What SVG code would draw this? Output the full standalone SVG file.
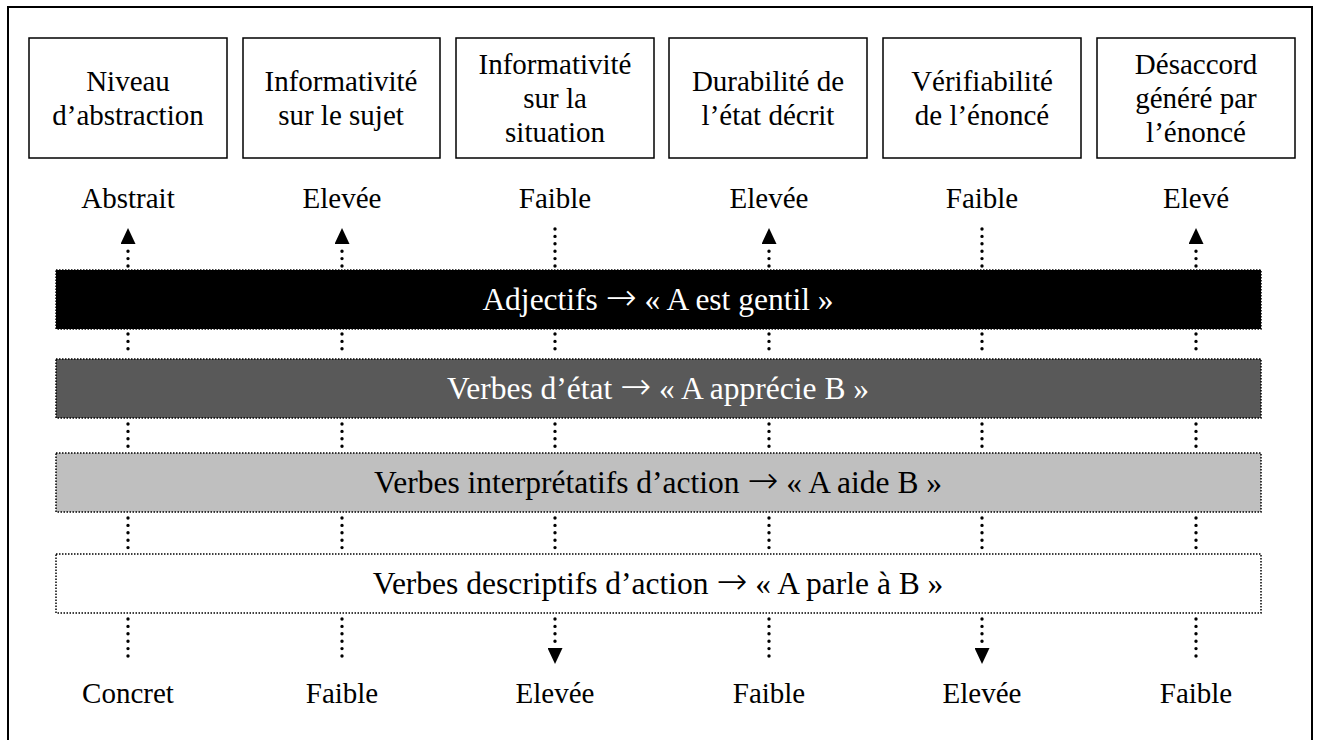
<svg xmlns="http://www.w3.org/2000/svg" width="1319" height="740" viewBox="0 0 1319 740">
<style>
text{font-family:"Liberation Serif","Times New Roman",serif;font-size:29px;fill:#000;text-anchor:middle}
.bt{font-size:31.5px}
.ar{font-family:"DejaVu Sans",sans-serif;font-size:37px;font-weight:200}
.box{fill:#fff;stroke:#000;stroke-width:1.5}
.bar{stroke:#000;stroke-width:1.5;stroke-dasharray:1.5 1.5}
.dot{stroke:#000;stroke-width:3.4;stroke-linecap:round;stroke-dasharray:0 7.4;fill:none}
.w{fill:#fff}
</style>
<defs>
<marker id="ah" markerUnits="userSpaceOnUse" viewBox="0 0 16 15" refX="0" refY="7.5" markerWidth="16" markerHeight="15" orient="auto">
<path d="M0,0 L16,7.5 L0,15 z" fill="#000"/>
</marker>
</defs>
<rect x="8" y="7" width="1304" height="745" fill="#fff" stroke="#000" stroke-width="2"/>

<g id="box1"><rect class="box" x="29" y="38" width="198" height="120"/><text x="128" y="91">Niveau</text><text x="128" y="125">d’abstraction</text></g>
<g id="box2"><rect class="box" x="243" y="38" width="197" height="120"/><text x="341" y="91">Informativité</text><text x="341" y="125">sur le sujet</text></g>
<g id="box3"><rect class="box" x="456" y="38" width="198" height="120"/><text x="555" y="74">Informativité</text><text x="555" y="108">sur la</text><text x="555" y="142">situation</text></g>
<g id="box4"><rect class="box" x="669" y="38" width="198" height="120"/><text x="768" y="91">Durabilité de</text><text x="768" y="125">l’état décrit</text></g>
<g id="box5"><rect class="box" x="883" y="38" width="198" height="120"/><text x="982" y="91">Vérifiabilité</text><text x="982" y="125">de l’énoncé</text></g>
<g id="box6"><rect class="box" x="1097" y="38" width="198" height="120"/><text x="1196" y="74">Désaccord</text><text x="1196" y="108">généré par</text><text x="1196" y="142">l’énoncé</text></g>

<g id="labels-top">
<text x="128" y="208">Abstrait</text><text x="342" y="208">Elevée</text><text x="555" y="208">Faible</text><text x="769" y="208">Elevée</text><text x="982" y="208">Faible</text><text x="1196" y="208">Elevé</text>
</g>

<g id="connectors">
<line class="dot" x1="128" y1="266" x2="128" y2="244" marker-end="url(#ah)"/>
<line class="dot" x1="342" y1="266" x2="342" y2="244" marker-end="url(#ah)"/>
<line class="dot" x1="555" y1="266" x2="555" y2="224"/>
<line class="dot" x1="769" y1="266" x2="769" y2="244" marker-end="url(#ah)"/>
<line class="dot" x1="982" y1="266" x2="982" y2="224"/>
<line class="dot" x1="1196" y1="266" x2="1196" y2="244" marker-end="url(#ah)"/>
<g>
<line class="dot" x1="128" y1="334" x2="128" y2="356"/><line class="dot" x1="342" y1="334" x2="342" y2="356"/><line class="dot" x1="555" y1="334" x2="555" y2="356"/><line class="dot" x1="769" y1="334" x2="769" y2="356"/><line class="dot" x1="982" y1="334" x2="982" y2="356"/><line class="dot" x1="1196" y1="334" x2="1196" y2="356"/>
</g>
<g>
<line class="dot" x1="128" y1="424" x2="128" y2="450"/><line class="dot" x1="342" y1="424" x2="342" y2="450"/><line class="dot" x1="555" y1="424" x2="555" y2="450"/><line class="dot" x1="769" y1="424" x2="769" y2="450"/><line class="dot" x1="982" y1="424" x2="982" y2="450"/><line class="dot" x1="1196" y1="424" x2="1196" y2="450"/>
</g>
<g>
<line class="dot" x1="128" y1="518" x2="128" y2="551"/><line class="dot" x1="342" y1="518" x2="342" y2="551"/><line class="dot" x1="555" y1="518" x2="555" y2="551"/><line class="dot" x1="769" y1="518" x2="769" y2="551"/><line class="dot" x1="982" y1="518" x2="982" y2="551"/><line class="dot" x1="1196" y1="518" x2="1196" y2="551"/>
</g>
<line class="dot" x1="128" y1="619" x2="128" y2="663"/>
<line class="dot" x1="342" y1="619" x2="342" y2="663"/>
<line class="dot" x1="555" y1="619" x2="555" y2="648" marker-end="url(#ah)"/>
<line class="dot" x1="769" y1="619" x2="769" y2="663"/>
<line class="dot" x1="982" y1="619" x2="982" y2="648" marker-end="url(#ah)"/>
<line class="dot" x1="1196" y1="619" x2="1196" y2="663"/>
</g>

<g id="bar1"><rect class="bar" x="56" y="270" width="1205" height="59" fill="#000"/><text class="bt w" x="658" y="310">Adjectifs <tspan class="ar">→</tspan> « A est gentil »</text></g>
<g id="bar2"><rect class="bar" x="56" y="359" width="1205" height="59" fill="#595959"/><text class="bt w" x="658" y="399">Verbes d’état <tspan class="ar">→</tspan> « A apprécie B »</text></g>
<g id="bar3"><rect class="bar" x="56" y="453" width="1205" height="59" fill="#bfbfbf"/><text class="bt" x="658" y="493">Verbes interprétatifs d’action <tspan class="ar">→</tspan> « A aide B »</text></g>
<g id="bar4"><rect class="bar" x="56" y="554" width="1205" height="59" fill="#fff"/><text class="bt" x="658" y="594">Verbes descriptifs d’action <tspan class="ar">→</tspan> « A parle à B »</text></g>

<g id="labels-bottom">
<text x="128" y="703">Concret</text><text x="342" y="703">Faible</text><text x="555" y="703">Elevée</text><text x="769" y="703">Faible</text><text x="982" y="703">Elevée</text><text x="1196" y="703">Faible</text>
</g>
</svg>
